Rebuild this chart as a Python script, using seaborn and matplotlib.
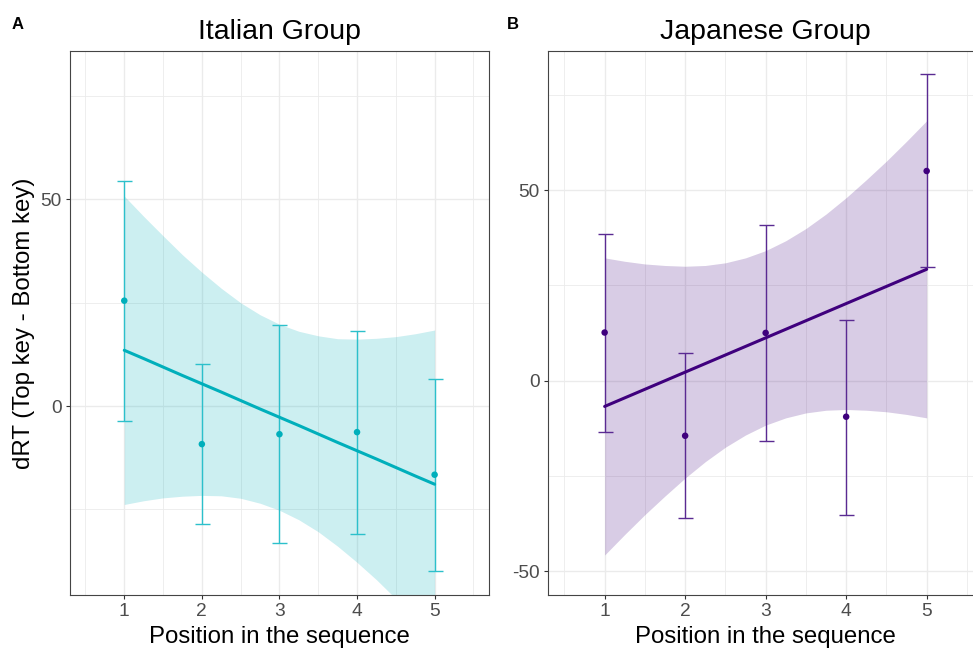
import pandas as pd
import seaborn as sns
import matplotlib.pyplot as plt
from matplotlib.ticker import MultipleLocator

# Summary values
positions = [1, 2, 3, 4, 5]

ita_mean = [25.5, -9.2, -6.8, -6.3, -16.6]
ita_low = [-3.6, -28.5, -33.1, -31.0, -39.8]
ita_high = [54.5, 10.2, 19.6, 18.1, 6.5]

jpn_mean = [12.6, -14.5, 12.5, -9.5, 55.0]
jpn_low = [-13.6, -36.2, -16.0, -35.2, 29.8]
jpn_high = [38.4, 7.3, 40.8, 15.9, 80.4]

# Linear fit and its confidence band (read at quarter steps)
fit_x = [1, 1.25, 1.5, 1.75, 2, 2.25, 2.5, 2.75, 3,
         3.25, 3.5, 3.75, 4, 4.25, 4.5, 4.75, 5]
ita_fit = [13.5, 11.5, 9.45, 7.4, 5.4, 3.4, 1.35, -0.7, -2.7,
           -4.7, -6.75, -8.8, -10.8, -12.8, -14.85, -16.9, -18.9]
ita_fit_low = [-23.8, -22.9, -22.2, -21.8, -21.6, -21.7, -22.3, -23.5, -25.2,
               -27.5, -30.4, -33.9, -37.8, -42.0, -46.6, -51.3, -56.2]
ita_fit_high = [50.8, 45.9, 41.2, 36.6, 32.4, 28.5, 25.0, 22.1, 19.8,
                18.1, 17.0, 16.3, 16.2, 16.4, 16.8, 17.5, 18.4]

jpn_fit = [-6.8, -4.55, -2.3, -0.05, 2.2, 4.45, 6.7, 8.95, 11.2,
           13.45, 15.7, 17.95, 20.2, 22.45, 24.7, 26.95, 29.2]
jpn_fit_low = [-45.8, -40.4, -35.2, -30.3, -25.6, -21.3, -17.5, -14.3, -11.7,
               -9.8, -8.5, -7.8, -7.6, -7.8, -8.2, -8.9, -9.8]
jpn_fit_high = [32.2, 31.3, 30.6, 30.2, 30.0, 30.2, 30.9, 32.2, 34.1,
                36.7, 39.9, 43.7, 48.0, 52.7, 57.6, 62.8, 68.2]

sns.set_theme(style="white")
plt.rcParams['font.family'] = ['Liberation Sans', 'DejaVu Sans']
plt.rcParams['axes.unicode_minus'] = False
plt.rcParams['text.color'] = 'black'
plt.rcParams['axes.labelcolor'] = 'black'

fig = plt.figure(figsize=(9.73, 6.49), dpi=100)
ax1 = fig.add_axes([0.0719, 0.0832, 0.4306, 0.8382])
ax2 = fig.add_axes([0.5635, 0.0832, 0.4468, 0.8382])


def draw_panel(ax, mean, low, high, fit, fit_low, fit_high,
               col, bar_col, title, ylim):
    pts = pd.DataFrame({"pos": positions, "mean": mean})
    fit_df = pd.DataFrame({"pos": fit_x, "fit": fit})

    ax.fill_between(fit_x, fit_low, fit_high, color=col, alpha=0.2,
                    linewidth=0, zorder=1)
    sns.lineplot(data=fit_df, x="pos", y="fit", ax=ax, color=col,
                 linewidth=2.2, zorder=3)
    err = [[m - l for m, l in zip(mean, low)], [h - m for m, h in zip(mean, high)]]
    ax.errorbar(positions, mean, yerr=err, fmt="none", ecolor=bar_col,
                elinewidth=1.0, capsize=5.4, capthick=1.0, zorder=2)
    sns.scatterplot(data=pts, x="pos", y="mean", ax=ax, color=col, s=22,
                    edgecolor="none", zorder=4)

    ax.set_xlim(0.3, 5.7)
    ax.set_ylim(*ylim)
    ax.xaxis.set_major_locator(MultipleLocator(1))
    ax.xaxis.set_minor_locator(MultipleLocator(0.5))
    ax.yaxis.set_major_locator(MultipleLocator(50))
    ax.yaxis.set_minor_locator(MultipleLocator(25))
    ax.grid(True, which="major", color="#ebebeb", linewidth=1.0, zorder=0)
    ax.grid(True, which="minor", color="#ebebeb", linewidth=0.6, zorder=0)
    ax.set_axisbelow(True)
    ax.tick_params(axis="both", which="major", length=3, width=0.8,
                   color="#333333", labelsize=13.8, labelcolor="#4d4d4d",
                   pad=3, bottom=True, left=True)
    ax.tick_params(axis="both", which="minor", length=0)
    for s in ax.spines.values():
        s.set_color("#444444")
        s.set_linewidth(0.8)
    ax.set_title(title, fontsize=20.5, pad=9, color="black")
    ax.set_xlabel("Position in the sequence", fontsize=17.3, labelpad=4)
    ax.set_ylabel("")


draw_panel(ax1, ita_mean, ita_low, ita_high, ita_fit, ita_fit_low, ita_fit_high,
           "#00AFBB", "#2cc0cb", "Italian Group", (-45.7, 85.9))
draw_panel(ax2, jpn_mean, jpn_low, jpn_high, jpn_fit, jpn_fit_low, jpn_fit_high,
           "#3F007D", "#5a2a92", "Japanese Group", (-56.3, 86.5))

ax1.set_ylabel("dRT (Top key - Bottom key)", fontsize=17.3, labelpad=4)

fig.text(0.012, 0.955, "A", fontsize=12, fontweight="bold")
fig.text(0.521, 0.955, "B", fontsize=12, fontweight="bold")

fig.savefig("out.png", dpi=100)
